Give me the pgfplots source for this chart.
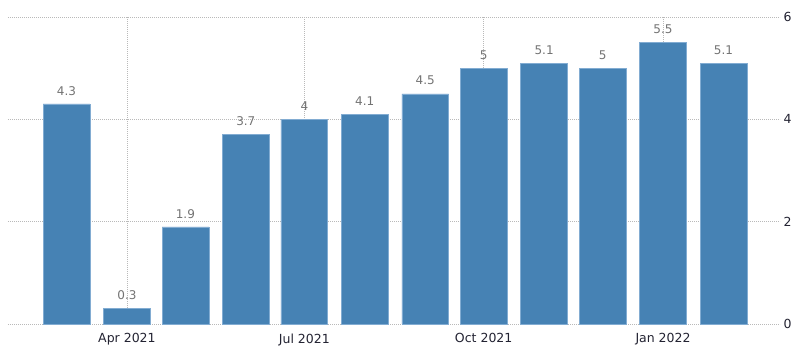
\documentclass[border=0pt]{standalone}
\usepackage{pgfplots}
\pgfplotsset{compat=1.18}
\usepackage{fontspec}
\setmainfont{DejaVu Sans}
\definecolor{barblue}{RGB}{70,130,180}
\definecolor{baredge}{RGB}{130,172,210}
\definecolor{ticktxt}{RGB}{35,35,50}
\definecolor{valtxt}{RGB}{115,115,115}
\definecolor{gridc}{RGB}{185,185,185}
\begin{document}
\begin{tikzpicture}
\path[use as bounding box] (-8pt,-32pt) rectangle (792pt,324pt);
\begin{axis}[
  at={(0pt,0pt)}, anchor=south west,
  scale only axis, width=772pt, height=307pt,
  xmin=-30, xmax=366, ymin=0, ymax=6,
  /pgf/number format/assume math mode=true,
  axis line style={draw=none},
  major tick length=0pt,
  xtick={31,122,214,306},
  xticklabels={Apr 2021,Jul 2021,Oct 2021,Jan 2022},
  ytick={0,2,4,6},
  yticklabel pos=right,
  xmajorgrids, ymajorgrids,
  grid style={gridc, line width=0.6pt, dash pattern=on 0.6pt off 1.4pt},
  xticklabel style={font=\fontsize{12.5}{14}\selectfont, text=ticktxt, yshift=-6pt},
  yticklabel style={font=\fontsize{12.5}{14}\selectfont, text=ticktxt, xshift=0pt},
  ybar, bar width=24,
  nodes near coords,
  every node near coord/.append style={font=\fontsize{12}{13}\selectfont, text=valtxt, yshift=5pt},
  clip=false,
]
\addplot[fill=barblue, draw=baredge, line width=0.5pt] coordinates {
(0,4.3) (31,0.3) (61,1.9) (92,3.7) (122,4) (153,4.1)
(184,4.5) (214,5) (245,5.1) (275,5) (306,5.5) (337,5.1)
};
\end{axis}
\end{tikzpicture}
\end{document}
